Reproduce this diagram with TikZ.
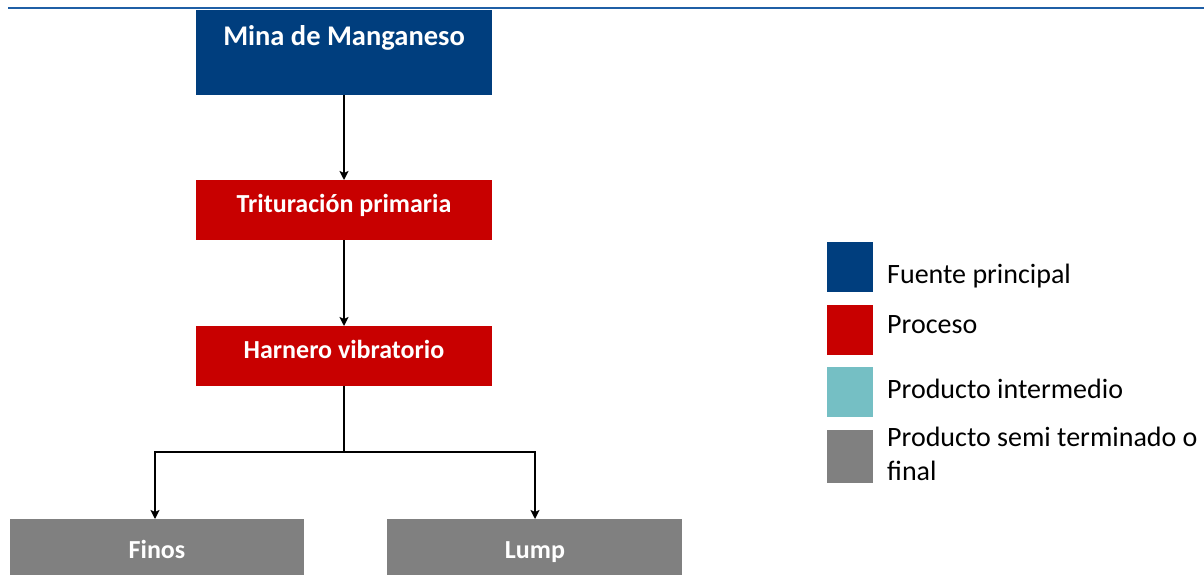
\documentclass[tikz,border=0pt]{standalone}
\usepackage{fontspec}
\setmainfont{Carlito}
\usetikzlibrary{arrows.meta}
\definecolor{cblue}{HTML}{003E7E}
\definecolor{cred}{HTML}{C80000}
\definecolor{cteal}{HTML}{75BFC4}
\definecolor{cgray}{HTML}{808080}
\definecolor{cline}{HTML}{1F5FA6}
\begin{document}
\begin{tikzpicture}[x=1pt,y=-1pt,
  boxst/.style={inner sep=0pt,outer sep=0pt,text=white,anchor=base,font=\bfseries\fontsize{26}{31}\selectfont},
  legsq/.style={minimum width=46pt,minimum height=50pt,inner sep=0pt,outer sep=0pt,anchor=north west},
  legtx/.style={anchor=base west,inner sep=0pt,font=\fontsize{28}{34}\selectfont,align=left},
  arr/.style={line width=2.7pt,-{Stealth[length=9pt,width=9pt,inset=2pt]}},
  ln/.style={line width=2.7pt}]
\useasboundingbox (0,0) rectangle (1204,574);
\begin{scope}
\clip (0,0) rectangle (1204,574);
% top rule
\draw[cline,line width=2.2pt] (8,8) -- (1204,8);
% boxes
\fill[cblue] (196,10) rectangle (492,95);
\node[boxst,font=\bfseries\fontsize{28.5}{33}\selectfont] (mina) at (344,45) {Mina de Manganeso};
\coordinate (minab) at (344,95);
\fill[cred] (196,180) rectangle (492,240);
\node[boxst] (trit) at (344,212) {Trituración primaria};
\coordinate (tritt) at (344,180);
\coordinate (tritb) at (344,240);
\fill[cred] (196,326) rectangle (492,386);
\node[boxst] (harn) at (344,358) {Harnero vibratorio};
\coordinate (harnt) at (344,326);
\coordinate (harnb) at (344,386);
\fill[cgray] (10,519) rectangle (304,580);
\node[boxst] (finos) at (157,558) {Finos};
\coordinate (finost) at (155,519);
\fill[cgray] (387,519) rectangle (682,580);
\node[boxst] (lump) at (535,558) {Lump};
\coordinate (lumpt) at (535,519);
\coordinate (split) at (344,452);
% connectors
\draw[arr] (minab) -- (tritt);
\draw[arr] (tritb) -- (harnt);
\draw[ln] (harnb) -- (split);
\draw[arr] (split) -| (finost);
\draw[arr] (split) -| (lumpt);
% legend
\node[legsq,fill=cblue] (l1) at (827,242) {};
\node[legsq,fill=cred] (l2) at (827,305) {};
\node[legsq,fill=cteal] (l3) at (827,367) {};
\node[legsq,fill=cgray,minimum height=53pt] (l4) at (827,430) {};
\node[legtx] (t1) at (887,283) {Fuente principal};
\node[legtx] (t2) at (887,333) {Proceso};
\node[legtx] (t3) at (887,398) {Producto intermedio};
\node[legtx] (t4) at (887,480) {Producto semi terminado o\\final};
\end{scope}
\end{tikzpicture}
\end{document}
